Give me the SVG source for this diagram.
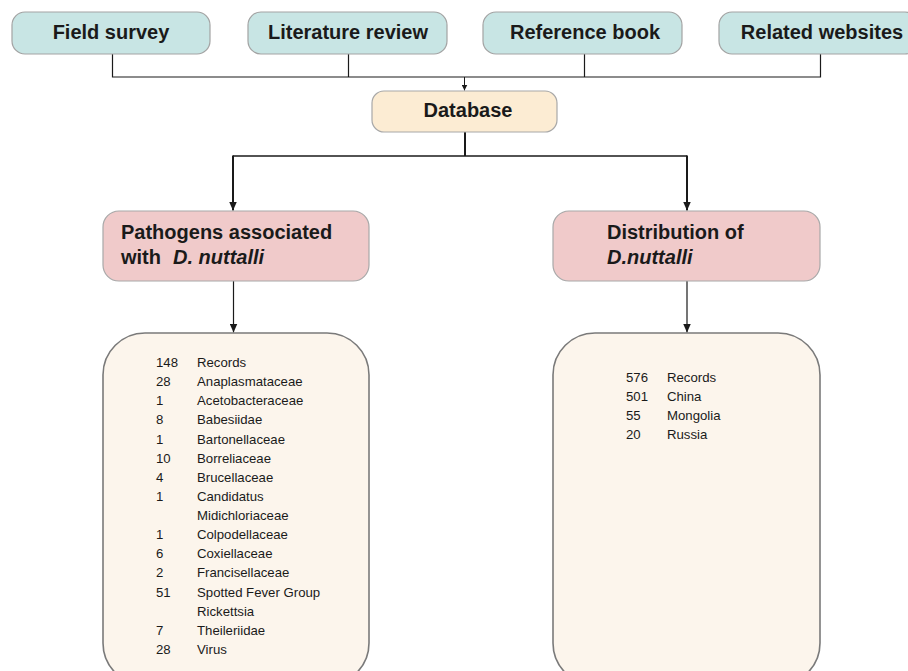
<svg xmlns="http://www.w3.org/2000/svg" width="908" height="671" viewBox="0 0 908 671">
<defs>
<style>
.src rect{fill:#c8e5e4;stroke:#a3a3a3;stroke-width:1.2}
.hd{font-family:"Liberation Sans",Arial,sans-serif;font-weight:bold;font-size:20px;fill:#1a1a1a}
.pk rect{fill:#f0caca;stroke:#a8a8a8;stroke-width:1.2}
.db rect{fill:#fcecd3;stroke:#a8a8a8;stroke-width:1.2}
.lst rect{fill:#fcf5ec;stroke:#7a7a7a;stroke-width:1.6}
.it{font-family:"Liberation Sans",Arial,sans-serif;font-size:13.2px;fill:#1a1a1a}
.ln{fill:none;stroke:#1a1a1a}
</style>
<marker id="ah" viewBox="0 0 10 10" refX="10" refY="5" markerWidth="6" markerHeight="6" markerUnits="userSpaceOnUse" orient="auto"><path d="M0,0 L10,5 L0,10 z" fill="#1a1a1a"/></marker>
<marker id="ah2" viewBox="0 0 10 10" refX="10" refY="5" markerWidth="9" markerHeight="8" markerUnits="userSpaceOnUse" orient="auto" preserveAspectRatio="none"><path d="M0,0 L10,5 L0,10 z" fill="#1a1a1a"/></marker>
</defs>
<rect width="908" height="671" fill="#ffffff"/>

<g id="connectors">
<path class="ln" stroke-width="1.2" d="M112.5,54 V77 H820.5 V54 M348.5,54 V77 M584.5,54 V77"/>
<path class="ln" stroke-width="1" d="M464.5,77 V90.5" marker-end="url(#ah)"/>
<path class="ln" stroke-width="2" d="M465,132 V156"/>
<path class="ln" stroke-width="1.3" d="M233,156 H687"/>
<path class="ln" stroke-width="2" d="M233,155.4 V210.5" marker-end="url(#ah2)"/>
<path class="ln" stroke-width="2" d="M687,155.4 V210.5" marker-end="url(#ah2)"/>
<path class="ln" stroke-width="1.2" d="M233.5,281 V332.5" marker-end="url(#ah2)"/>
<path class="ln" stroke-width="1.2" d="M687,281 V332.5" marker-end="url(#ah2)"/>
</g>

<g id="field-survey" class="src"><rect x="12" y="12" width="198" height="42" rx="13"/><text class="hd" x="111" y="39" text-anchor="middle">Field survey</text></g>
<g id="literature-review" class="src"><rect x="248" y="12" width="199" height="42" rx="13"/><text class="hd" x="348" y="39" text-anchor="middle">Literature review</text></g>
<g id="reference-book" class="src"><rect x="483" y="12" width="199" height="42" rx="13"/><text class="hd" x="585" y="39" text-anchor="middle">Reference book</text></g>
<g id="related-websites" class="src"><rect x="719" y="12" width="199" height="42" rx="13"/><text class="hd" x="822" y="39" text-anchor="middle">Related websites</text></g>

<g id="database" class="db"><rect x="372" y="91" width="185" height="41" rx="12"/><text class="hd" x="468" y="117" text-anchor="middle">Database</text></g>

<g id="pathogens" class="pk"><rect x="103" y="211" width="266" height="70" rx="16"/>
<text class="hd" x="121" y="239">Pathogens associated</text>
<text class="hd" x="121" y="264">with<tspan x="173" font-style="italic">D. nuttalli</tspan></text></g>

<g id="distribution" class="pk"><rect x="553" y="211" width="267" height="70" rx="16"/>
<text class="hd" x="607" y="239">Distribution of</text>
<text class="hd" x="607" y="264" font-style="italic">D.nuttalli</text></g>

<g id="pathogen-list" class="lst"><rect x="103" y="333" width="266" height="352" rx="42"/>
<g class="it">
<text x="156" y="367">148</text><text x="197" y="367">Records</text>
<text x="156" y="386.1">28</text><text x="197" y="386.1">Anaplasmataceae</text>
<text x="156" y="405.3">1</text><text x="197" y="405.3">Acetobacteraceae</text>
<text x="156" y="424.4">8</text><text x="197" y="424.4">Babesiidae</text>
<text x="156" y="443.5">1</text><text x="197" y="443.5">Bartonellaceae</text>
<text x="156" y="462.7">10</text><text x="197" y="462.7">Borreliaceae</text>
<text x="156" y="481.8">4</text><text x="197" y="481.8">Brucellaceae</text>
<text x="156" y="500.9">1</text><text x="197" y="500.9">Candidatus</text>
<text x="197" y="520">Midichloriaceae</text>
<text x="156" y="539.2">1</text><text x="197" y="539.2">Colpodellaceae</text>
<text x="156" y="558.3">6</text><text x="197" y="558.3">Coxiellaceae</text>
<text x="156" y="577.4">2</text><text x="197" y="577.4">Francisellaceae</text>
<text x="156" y="596.6">51</text><text x="197" y="596.6">Spotted Fever Group</text>
<text x="197" y="615.7">Rickettsia</text>
<text x="156" y="634.8">7</text><text x="197" y="634.8">Theileriidae</text>
<text x="156" y="654">28</text><text x="197" y="654">Virus</text>
</g></g>

<g id="distribution-list" class="lst"><rect x="553" y="333" width="267" height="352" rx="42"/>
<g class="it">
<text x="626" y="381.5">576</text><text x="667" y="381.5">Records</text>
<text x="626" y="400.5">501</text><text x="667" y="400.5">China</text>
<text x="626" y="419.6">55</text><text x="667" y="419.6">Mongolia</text>
<text x="626" y="438.7">20</text><text x="667" y="438.7">Russia</text>
</g></g>
</svg>
